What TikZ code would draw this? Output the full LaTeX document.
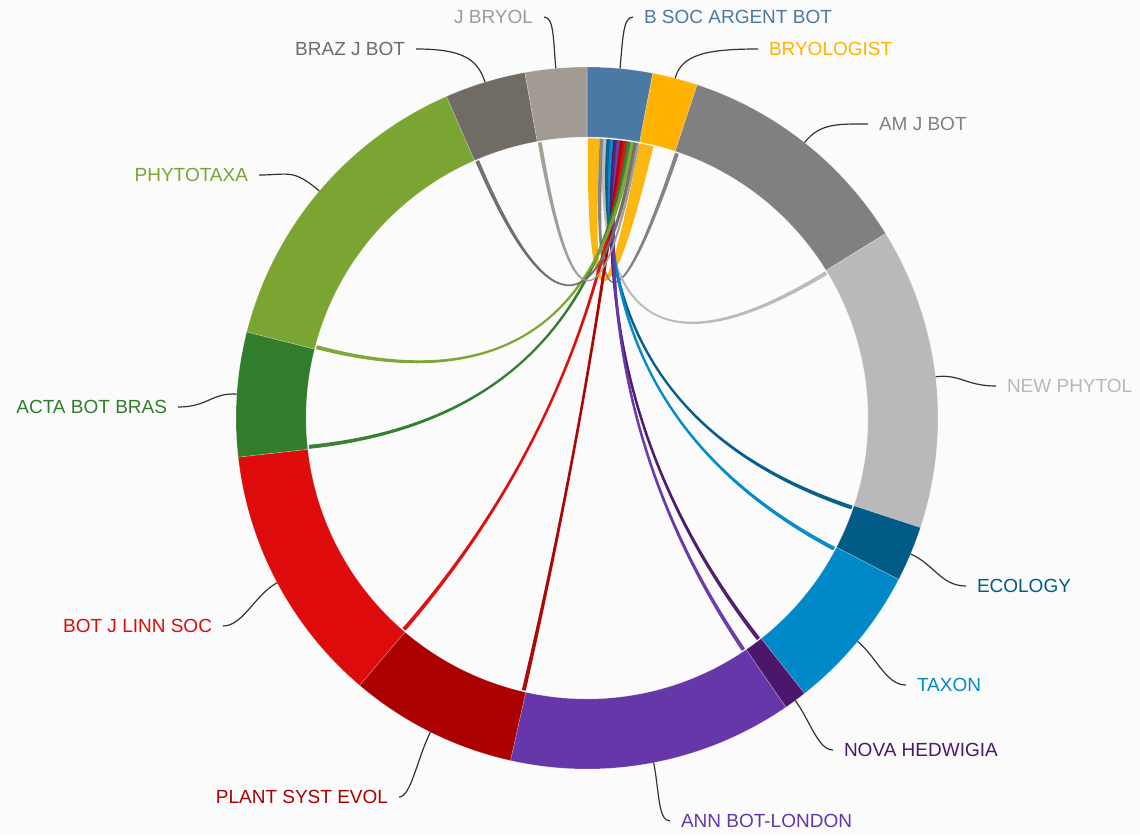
\documentclass[tikz,border=0pt]{standalone}
\usepackage{fontspec}
\setmainfont{Liberation Sans}
\usetikzlibrary{calc}
\definecolor{bgc}{HTML}{FBFBFB}
\definecolor{cBSOC}{HTML}{4A79A5}
\definecolor{cBRYO}{HTML}{FFB300}
\definecolor{cAMJ}{HTML}{808080}
\definecolor{cNEWP}{HTML}{B9B9B9}
\definecolor{cECO}{HTML}{005B86}
\definecolor{cTAX}{HTML}{0089C8}
\definecolor{cNOVA}{HTML}{4B176B}
\definecolor{cANN}{HTML}{6637A9}
\definecolor{cPLANT}{HTML}{AA0000}
\definecolor{cBOTJ}{HTML}{DD0B0B}
\definecolor{cACTA}{HTML}{317D2C}
\definecolor{cPHYTO}{HTML}{7BA532}
\definecolor{cBRAZ}{HTML}{706B64}
\definecolor{cJB}{HTML}{A19B93}
\definecolor{leadc}{HTML}{333333}
\newcommand\ringseg[3]{%
  \fill[#3, draw=white, draw opacity=0.3, line width=0.6pt] ({#1-90}:351) arc[start angle={#1-90}, end angle={#2-90}, radius=351] -- ({#2-90}:281) arc[start angle={#2-90}, end angle={#1-90}, radius=281] -- cycle;}
\newcommand\chordrib[5]{%
  \filldraw[#5, line width=1.3pt, line join=round, opacity=0.92] ({#1-90}:279) arc[start angle={#1-90}, end angle={#2-90}, radius=279]
    .. controls ({#2-90}:93) and ({#3-90}:93) .. ({#3-90}:279)
    arc[start angle={#3-90}, end angle={#4-90}, radius=279]
    .. controls ({#4-90}:93) and ({#1-90}:93) .. ({#1-90}:279) -- cycle;}
\tikzset{
  lbl/.style={inner sep=0pt, outer xsep=11pt, font=\fontsize{19}{21}\selectfont},
  leader/.style={draw=leadc, line width=1.2pt},
}
\begin{document}
\begin{tikzpicture}[x=1pt, y=-1pt]
\useasboundingbox (0,0) rectangle (1140,836);
\fill[bgc] (0,0) rectangle (1140,836);
\begin{scope}[shift={(587,418)}]
  % chords from B SOC ARGENT BOT
  \chordrib{0.3}{2.5}{11.0}{13.6}{cBRYO}
  \chordrib{2.75}{3.3}{18.5}{19.05}{cAMJ}
  \chordrib{3.45}{4.0}{58.5}{59.05}{cNEWP}
  \chordrib{4.15}{4.7}{108.4}{108.95}{cECO}
  \chordrib{4.85}{5.4}{117.6}{118.15}{cTAX}
  \chordrib{5.55}{6.1}{141.9}{142.45}{cNOVA}
  \chordrib{6.25}{6.8}{145.7}{146.25}{cANN}
  \chordrib{6.95}{7.5}{192.8}{193.35}{cPLANT}
  \chordrib{7.65}{8.2}{220.6}{221.15}{cBOTJ}
  \chordrib{8.35}{8.9}{263.8}{264.35}{cACTA}
  \chordrib{9.05}{9.6}{284.4}{284.95}{cPHYTO}
  \chordrib{9.75}{10.3}{-23.4}{-22.85}{cBRAZ}
  \chordrib{10.4}{10.7}{-10.0}{-9.45}{cJB}
  % ring segments (clockwise angle from top)
  \ringseg{0}{10.8}{cBSOC}
  \ringseg{10.8}{18.3}{cBRYO}
  \ringseg{18.3}{58.3}{cAMJ}
  \ringseg{58.3}{108.2}{cNEWP}
  \ringseg{108.2}{117.4}{cECO}
  \ringseg{117.4}{141.7}{cTAX}
  \ringseg{141.7}{145.5}{cNOVA}
  \ringseg{145.5}{192.6}{cANN}
  \ringseg{192.6}{220.4}{cPLANT}
  \ringseg{220.4}{263.6}{cBOTJ}
  \ringseg{263.6}{284.2}{cACTA}
  \ringseg{284.2}{336.4}{cPHYTO}
  \ringseg{336.4}{349.8}{cBRAZ}
  \ringseg{349.8}{360}{cJB}
  % leader end points on the ring
  \coordinate (aJB) at (264.9:351);
  \coordinate (aBSOC) at (-84.6:351);
  \coordinate (aBRYO) at (-75.45:351);
  \coordinate (aBRAZ) at (253.1:351);
  \coordinate (aAMJ) at (-51.7:351);
  \coordinate (aNEWP) at (-6.75:351);
  \coordinate (aECO) at (22.8:351);
  \coordinate (aTAX) at (39.55:351);
  \coordinate (aNOVA) at (53.6:351);
  \coordinate (aANN) at (79.05:351);
  \coordinate (aPLANT) at (116.5:351);
  \coordinate (aBOTJ) at (152:351);
  \coordinate (aACTA) at (183.9:351);
  \coordinate (aPHYTO) at (220.3:351);
\end{scope}
% labels
\node[lbl, anchor=east, text=cJB] (lJB) at (544,17) {J BRYOL};
\node[lbl, anchor=west, text=cBSOC] (lBSOC) at (633,17) {B SOC ARGENT BOT};
\node[lbl, anchor=west, text=cBRYO] (lBRYO) at (758,49) {BRYOLOGIST};
\node[lbl, anchor=east, text=cBRAZ] (lBRAZ) at (416,49) {BRAZ J BOT};
\node[lbl, anchor=west, text=cAMJ] (lAMJ) at (868,124) {AM J BOT};
\node[lbl, anchor=west, text=cNEWP] (lNEWP) at (996,386) {NEW PHYTOL};
\node[lbl, anchor=west, text=cECO] (lECO) at (966,586) {ECOLOGY};
\node[lbl, anchor=west, text=cTAX] (lTAX) at (906,685) {TAXON};
\node[lbl, anchor=west, text=cNOVA] (lNOVA) at (833,750) {NOVA HEDWIGIA};
\node[lbl, anchor=west, text=cANN] (lANN) at (670,821) {ANN BOT-LONDON};
\node[lbl, anchor=east, text=cPLANT] (lPLANT) at (399,797) {PLANT SYST EVOL};
\node[lbl, anchor=east, text=cBOTJ] (lBOTJ) at (223,626) {BOT J LINN SOC};
\node[lbl, anchor=east, text=cACTA] (lACTA) at (178,407) {ACTA BOT BRAS};
\node[lbl, anchor=east, text=cPHYTO] (lPHYTO) at (259,175) {PHYTOTAXA};
% leaders
\draw[leader] (lJB.east) .. controls +(10,0) and +(264.9:30) .. (aJB);
\draw[leader] (lBSOC.west) .. controls +(-10,0) and +(-84.6:30) .. (aBSOC);
\draw[leader] (lBRYO.west) .. controls +(-50,0) and +(-75.45:25) .. (aBRYO);
\draw[leader] (lBRAZ.east) .. controls +(45,0) and +(253.1:25) .. (aBRAZ);
\draw[leader] (lAMJ.west) .. controls +(-30,0) and +(-51.7:25) .. (aAMJ);
\draw[leader] (lNEWP.west) .. controls +(-30,0) and +(-6.75:25) .. (aNEWP);
\draw[leader] (lECO.west) .. controls +(-25,0) and +(22.8:25) .. (aECO);
\draw[leader] (lTAX.west) .. controls +(-20,0) and +(39.55:25) .. (aTAX);
\draw[leader] (lNOVA.west) .. controls +(-15,0) and +(53.6:25) .. (aNOVA);
\draw[leader] (lANN.west) .. controls +(-12,0) and +(79.05:30) .. (aANN);
\draw[leader] (lPLANT.east) .. controls +(12,0) and +(116.5:30) .. (aPLANT);
\draw[leader] (lBOTJ.east) .. controls +(20,0) and +(152:25) .. (aBOTJ);
\draw[leader] (lACTA.east) .. controls +(30,0) and +(183.9:25) .. (aACTA);
\draw[leader] (lPHYTO.east) .. controls +(30,0) and +(220.3:35) .. (aPHYTO);
\end{tikzpicture}
\end{document}
